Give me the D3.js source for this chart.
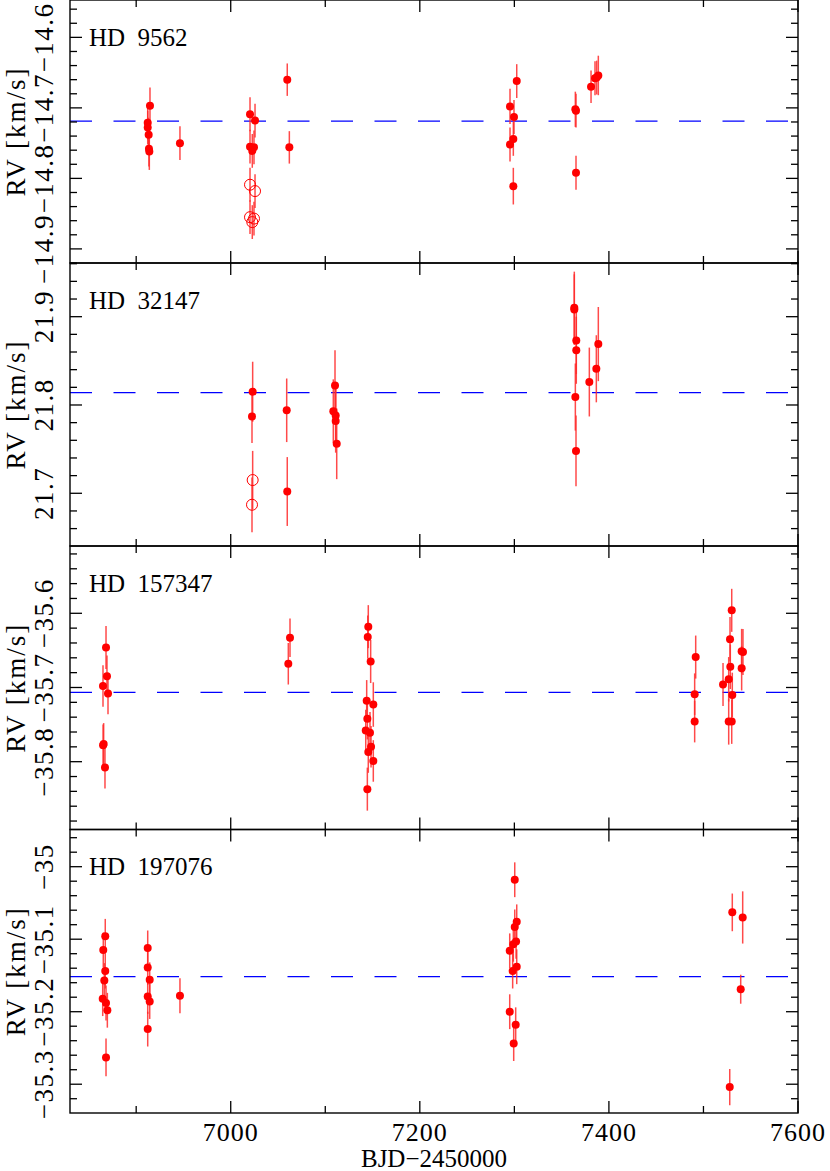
<!DOCTYPE html>
<html>
<head>
<meta charset="utf-8">
<script src="https://cdn.jsdelivr.net/npm/d3@7"></script>
<style>
body { margin: 0; background: #fff; }
text { font-family: "Liberation Serif", "Times New Roman", serif; fill: #000; }
</style>
</head>
<body>
<script>
// ---- data ----
var starNames = ["HD  9562", "HD  32147", "HD  157347", "HD  197076"];
var meanRv = [-14.7187, 21.814, -35.7065, -35.1517];

var hd9562Bjd = [6912.2, 6912.2, 6913.2, 6914.6, 6913.9, 6913.5, 6946.3, 7020.4, 7025.7, 7020.4, 7024.6, 7022.8, 7059.8, 7062.0,
    7302.5, 7295.4, 7299.6, 7298.9, 7295.4, 7298.9, 7364.5, 7365.2, 7365.2, 7381.1, 7385.3, 7387.1, 7388.8];
var hd9562Rv = [-14.721, -14.728, -14.738, -14.697, -14.762, -14.758, -14.750, -14.709, -14.718, -14.755, -14.756, -14.761, -14.660, -14.756,
    -14.662, -14.698, -14.713, -14.744, -14.752, -14.811, -14.702, -14.704, -14.792, -14.670, -14.658, -14.657, -14.654];
var hd9562Err = [0.024, 0.024, 0.024, 0.026, 0.026, 0.025, 0.024, 0.024, 0.024, 0.024, 0.024, 0.024, 0.023, 0.023,
    0.024, 0.025, 0.024, 0.024, 0.024, 0.026, 0.025, 0.024, 0.024, 0.023, 0.024, 0.024, 0.028];
var hd9562OpenBjd = [7020.4, 7025.7, 7020.4, 7024.6, 7022.8];
var hd9562OpenRv = [-14.809, -14.818, -14.855, -14.857, -14.862];
var hd9562OpenErr = [0.024, 0.024, 0.024, 0.024, 0.024];

var hd32147Bjd = [7023.2, 7022.5, 7059.2, 7059.8, 7110.3, 7108.5, 7111.0, 7111.0, 7112.1,
    7363.4, 7363.4, 7365.5, 7365.5, 7364.5, 7365.2, 7379.3, 7386.7, 7388.8];
var hd32147Rv = [21.815, 21.787, 21.794, 21.702, 21.822, 21.793, 21.788, 21.782, 21.756,
    21.910, 21.908, 21.873, 21.862, 21.809, 21.748, 21.826, 21.841, 21.869];
var hd32147Err = [0.034, 0.030, 0.036, 0.039, 0.040, 0.036, 0.036, 0.036, 0.040,
    0.041, 0.040, 0.038, 0.038, 0.038, 0.040, 0.039, 0.038, 0.042];
var hd32147OpenBjd = [7023.2, 7022.5];
var hd32147OpenRv = [21.715, 21.687];
var hd32147OpenErr = [0.033, 0.031];

var hd157347Bjd = [6868.1, 6864.9, 6869.1, 6870.2, 6865.6, 6865.0, 6867.0, 7060.9, 7062.7,
    7145.5, 7144.9, 7148.0, 7143.8, 7150.8, 7144.5, 7142.8, 7147.3, 7148.4, 7145.5, 7150.8, 7144.5,
    7491.8, 7490.7, 7490.7, 7520.7, 7526.7, 7528.1, 7529.9, 7528.4, 7530.5, 7526.7, 7529.9, 7540.4, 7541.8, 7540.4];
var hd157347Rv = [-35.646, -35.698, -35.685, -35.708, -35.776, -35.778, -35.808, -35.668, -35.633,
    -35.618, -35.632, -35.665, -35.718, -35.723, -35.742, -35.758, -35.761, -35.780, -35.787, -35.799, -35.837,
    -35.659, -35.709, -35.746, -35.696, -35.689, -35.635, -35.596, -35.672, -35.710, -35.746, -35.746, -35.651, -35.652, -35.674];
var hd157347Err = [0.029, 0.028, 0.028, 0.028, 0.028, 0.028, 0.028, 0.028, 0.026,
    0.029, 0.029, 0.029, 0.028, 0.030, 0.028, 0.028, 0.028, 0.028, 0.028, 0.028, 0.029,
    0.029, 0.028, 0.028, 0.029, 0.030, 0.030, 0.029, 0.030, 0.030, 0.031, 0.030, 0.030, 0.031, 0.030];

var hd197076Bjd = [6867.3, 6865.2, 6867.3, 6866.3, 6864.6, 6868.1, 6869.5, 6868.1, 6912.2, 6912.2, 6914.3, 6912.2, 6914.3, 6912.2, 6946.3,
    7300.4, 7302.5, 7300.4, 7295.1, 7301.8, 7298.9, 7302.5, 7298.2, 7295.1, 7301.4, 7299.3, 7530.5, 7541.5, 7539.4, 7527.8];
var hd197076Rv = [-35.096, -35.115, -35.144, -35.157, -35.182, -35.188, -35.198, -35.263, -35.112, -35.139, -35.156, -35.179, -35.186, -35.224, -35.178,
    -35.018, -35.076, -35.083, -35.116, -35.103, -35.107, -35.138, -35.144, -35.200, -35.218, -35.244, -35.063, -35.070, -35.169, -35.304];
var hd197076Err = [0.024, 0.024, 0.024, 0.024, 0.024, 0.024, 0.024, 0.026, 0.024, 0.024, 0.024, 0.024, 0.024, 0.024, 0.024,
    0.024, 0.024, 0.024, 0.024, 0.024, 0.024, 0.024, 0.024, 0.024, 0.024, 0.024, 0.026, 0.036, 0.020, 0.025];

// axis ranges of each panel and ticks
var xRange = [6830, 7600];
var yRanges = [[-14.920, -14.547], [21.6403, 21.9608], [-35.8914, -35.5093], [-35.3397, -34.9487]];
var xTickLabels = [7000, 7200, 7400, 7600];

// ---- layout ----
var svgWidth = 830;
var svgHeight = 1171;
var plotLeft = 70;
var plotRight = 798;
var panelEdges = [0, 263, 546, 829.5, 1113];

var svg = d3.select("body")
    .append("svg")
    .attr("width", svgWidth)
    .attr("height", svgHeight);

var xScale = d3.scaleLinear().domain(xRange).range([plotLeft, plotRight]);

var panels = [
    {bjd: hd9562Bjd, rv: hd9562Rv, err: hd9562Err, oBjd: hd9562OpenBjd, oRv: hd9562OpenRv, oErr: hd9562OpenErr},
    {bjd: hd32147Bjd, rv: hd32147Rv, err: hd32147Err, oBjd: hd32147OpenBjd, oRv: hd32147OpenRv, oErr: hd32147OpenErr},
    {bjd: hd157347Bjd, rv: hd157347Rv, err: hd157347Err, oBjd: [], oRv: [], oErr: []},
    {bjd: hd197076Bjd, rv: hd197076Rv, err: hd197076Err, oBjd: [], oRv: [], oErr: []}
];

var fmt = d3.format(".2~f");

function stepValues(lo, hi, step) {
    return d3.range(Math.ceil(lo / step - 1e-6), Math.floor(hi / step + 1e-6) + 1).map(function(i) { return +(i * step).toFixed(4); });
}
function isMultiple(v, step) {
    return Math.abs(v / step - Math.round(v / step)) < 1e-6;
}

panels.forEach(function(p, i) {
    var top = panelEdges[i];
    var bottom = panelEdges[i + 1];
    var yScale = d3.scaleLinear().domain(yRanges[i]).range([bottom, top]);
    var g = svg.append("g");

    // mean RV dashed line
    g.append("line")
        .attr("x1", plotLeft).attr("x2", plotRight)
        .attr("y1", yScale(meanRv[i])).attr("y2", yScale(meanRv[i]))
        .attr("stroke", "#0000ff")
        .attr("stroke-width", 1.3)
        .attr("stroke-dasharray", "22 21.5");

    var pts = p.bjd.map(function(d, j) { return {x: d, y: p.rv[j], e: p.err[j]}; });
    var open = p.oBjd.map(function(d, j) { return {x: d, y: p.oRv[j], e: p.oErr[j]}; });

    // error bars
    g.selectAll(".ebar")
        .data(pts.concat(open))
        .enter()
        .append("line")
        .attr("x1", d => xScale(d.x)).attr("x2", d => xScale(d.x))
        .attr("y1", d => yScale(d.y - d.e)).attr("y2", d => yScale(d.y + d.e))
        .attr("stroke", "#ff2a2a")
        .attr("stroke-opacity", 0.85)
        .attr("stroke-width", 1.5);

    g.selectAll(".dot")
        .data(pts)
        .enter()
        .append("circle")
        .attr("cx", d => xScale(d.x))
        .attr("cy", d => yScale(d.y))
        .attr("r", 4)
        .attr("fill", "#ff0000");

    g.selectAll(".odot")
        .data(open)
        .enter()
        .append("circle")
        .attr("cx", d => xScale(d.x))
        .attr("cy", d => yScale(d.y))
        .attr("r", 5.5)
        .attr("fill", "none")
        .attr("stroke", "#ff0000")
        .attr("stroke-width", 1);

    // frame
    g.append("rect")
        .attr("x", plotLeft).attr("y", top)
        .attr("width", plotRight - plotLeft).attr("height", bottom - top)
        .attr("fill", "none")
        .attr("stroke", "#000")
        .attr("stroke-width", 1.4);

    // x ticks on top and bottom, pointing inwards
    stepValues(xRange[0], xRange[1], 100).forEach(function(v) {
        var len = isMultiple(v, 200) ? 12 : 7;
        var px = xScale(v);
        g.append("line").attr("x1", px).attr("x2", px).attr("y1", top).attr("y2", top + len)
            .attr("stroke", "#000").attr("stroke-width", 1.3);
        g.append("line").attr("x1", px).attr("x2", px).attr("y1", bottom).attr("y2", bottom - len)
            .attr("stroke", "#000").attr("stroke-width", 1.3);
    });

    // y ticks on both sides
    stepValues(yRanges[i][0], yRanges[i][1], 0.02).forEach(function(v) {
        var major = isMultiple(v, 0.1);
        var len = major ? 12 : 7;
        var py = yScale(v);
        g.append("line").attr("x1", plotLeft).attr("x2", plotLeft + len).attr("y1", py).attr("y2", py)
            .attr("stroke", "#000").attr("stroke-width", 1.3);
        g.append("line").attr("x1", plotRight).attr("x2", plotRight - len).attr("y1", py).attr("y2", py)
            .attr("stroke", "#000").attr("stroke-width", 1.3);
        if (major) {
            g.append("text")
                .attr("transform", "translate(53," + py + ") rotate(-90)")
                .attr("text-anchor", "middle")
                .style("font-size", "27px")
                .style("letter-spacing", "1.5px")
                .text(fmt(v));
        }
    });

    // star name
    g.append("text")
        .attr("x", 89)
        .attr("y", top + 45.5)
        .style("font-size", "25px")
        .style("white-space", "pre")
        .text(starNames[i]);

    // y axis title
    g.append("text")
        .attr("transform", "translate(25," + ((top + bottom) / 2) + ") rotate(-90)")
        .attr("text-anchor", "middle")
        .style("font-size", "27px")
        .style("letter-spacing", "2px")
        .style("white-space", "pre")
        .text("RV [km/s]");
});

// bottom x labels
svg.selectAll(".xlab")
    .data(xTickLabels)
    .enter()
    .append("text")
    .attr("x", d => xScale(d))
    .attr("y", 1141)
    .attr("text-anchor", "middle")
    .style("font-size", "26px")
    .style("letter-spacing", "1px")
    .text(d => d);

svg.append("text")
    .attr("x", (plotLeft + plotRight) / 2)
    .attr("y", 1167)
    .attr("text-anchor", "middle")
    .style("font-size", "25px")
    .text("BJD\u22122450000");
</script>
</body>
</html>
